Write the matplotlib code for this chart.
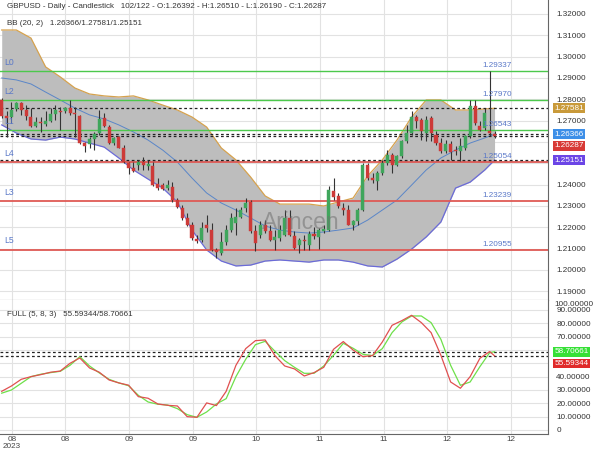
import numpy as np
import matplotlib
matplotlib.use("Agg")
import matplotlib.pyplot as plt

plt.rcParams['font.family'] = ['Liberation Sans', 'DejaVu Sans']

# daily candles (oldest first)
opens = [1.2797, 1.2722, 1.2719, 1.2755, 1.2782, 1.2750, 1.2719, 1.2677, 1.2696, 1.2685,
         1.2700, 1.2730, 1.2747, 1.2746, 1.2761, 1.2738, 1.2724, 1.2594, 1.2589, 1.2614,
         1.2641, 1.2711, 1.2672, 1.2594, 1.2625, 1.2571, 1.2500, 1.2477, 1.2493, 1.2508,
         1.2489, 1.2489, 1.2402, 1.2399, 1.2383, 1.2391, 1.2328, 1.2292, 1.2242, 1.2211,
         1.2145, 1.2141, 1.2211, 1.2188, 1.2094, 1.2078, 1.2133, 1.2188, 1.2219, 1.2250,
         1.2289, 1.2319, 1.2181, 1.2165, 1.2212, 1.2181, 1.2142, 1.2150, 1.2165, 1.2244,
         1.2158, 1.2119, 1.2142, 1.2119, 1.2169, 1.2153, 1.2181, 1.2189, 1.2372, 1.2345,
         1.2290, 1.2283, 1.2212, 1.2228, 1.2283, 1.2494, 1.2431, 1.2415, 1.2455, 1.2501,
         1.2541, 1.2494, 1.2533, 1.2603, 1.2642, 1.2716, 1.2705, 1.2642, 1.2712, 1.2634,
         1.2595, 1.2559, 1.2591, 1.2564, 1.2556, 1.2572, 1.2626, 1.2767, 1.2673, 1.2666,
         1.2650, 1.26392]
highs = [1.2805, 1.2743, 1.2789, 1.2789, 1.2789, 1.2774, 1.2758, 1.2719, 1.2719, 1.2743,
         1.2758, 1.2774, 1.2766, 1.2766, 1.2797, 1.2766, 1.2727, 1.2602, 1.2625, 1.2649,
         1.2750, 1.2735, 1.2680, 1.2625, 1.2627, 1.2586, 1.2508, 1.2508, 1.2516, 1.2532,
         1.2516, 1.2505, 1.2430, 1.2407, 1.2422, 1.2414, 1.2336, 1.2305, 1.2266, 1.2227,
         1.2164, 1.2227, 1.2258, 1.2219, 1.2102, 1.2180, 1.2211, 1.2266, 1.2289, 1.2297,
         1.2336, 1.2330, 1.2212, 1.2228, 1.2236, 1.2212, 1.2189, 1.2212, 1.2283, 1.2283,
         1.2181, 1.2150, 1.2165, 1.2181, 1.2200, 1.2197, 1.2212, 1.2392, 1.2431, 1.2361,
         1.2314, 1.2306, 1.2236, 1.2290, 1.2501, 1.2501, 1.2455, 1.2462, 1.2517, 1.2564,
         1.2548, 1.2541, 1.2611, 1.2681, 1.2744, 1.2728, 1.2712, 1.2720, 1.2720, 1.2650,
         1.2619, 1.2611, 1.2603, 1.2580, 1.2619, 1.2634, 1.2798, 1.2798, 1.2697, 1.2759,
         1.29337, 1.26510]
lows = [1.2711, 1.2625, 1.2688, 1.2743, 1.2727, 1.2704, 1.2672, 1.2668, 1.2649, 1.2677,
        1.2696, 1.2704, 1.2657, 1.2735, 1.2727, 1.2625, 1.2590, 1.2555, 1.2571, 1.2563,
        1.2633, 1.2672, 1.2589, 1.2586, 1.2571, 1.2500, 1.2449, 1.2461, 1.2469, 1.2469,
        1.2469, 1.2396, 1.2375, 1.2375, 1.2375, 1.2321, 1.2289, 1.2235, 1.2208, 1.2141,
        1.2125, 1.2133, 1.2180, 1.2089, 1.2055, 1.2070, 1.2117, 1.2180, 1.2164, 1.2242,
        1.2274, 1.2173, 1.2087, 1.2150, 1.2173, 1.2134, 1.2095, 1.2134, 1.2158, 1.2158,
        1.2100, 1.2079, 1.2095, 1.2095, 1.2147, 1.2100, 1.2173, 1.2185, 1.2330, 1.2290,
        1.2259, 1.2209, 1.2189, 1.2212, 1.2275, 1.2423, 1.2408, 1.2376, 1.2447, 1.2494,
        1.2455, 1.2486, 1.2525, 1.2595, 1.2634, 1.2666, 1.2611, 1.2603, 1.2603, 1.2587,
        1.2548, 1.2548, 1.2517, 1.2541, 1.2509, 1.2564, 1.2619, 1.2681, 1.2650, 1.2658,
        1.2628, 1.26190]
closes = [1.2724, 1.2714, 1.2750, 1.2782, 1.2750, 1.2724, 1.2677, 1.2696, 1.2691, 1.2700,
          1.2730, 1.2750, 1.2739, 1.2761, 1.2735, 1.2733, 1.2594, 1.2582, 1.2614, 1.2638,
          1.2708, 1.2677, 1.2594, 1.2621, 1.2574, 1.2508, 1.2477, 1.2466, 1.2505, 1.2493,
          1.2496, 1.2399, 1.2383, 1.2380, 1.2399, 1.2328, 1.2297, 1.2242, 1.2211, 1.2149,
          1.2136, 1.2199, 1.2196, 1.2094, 1.2083, 1.2133, 1.2188, 1.2242, 1.2247, 1.2282,
          1.2313, 1.2181, 1.2126, 1.2212, 1.2181, 1.2142, 1.2153, 1.2189, 1.2244, 1.2165,
          1.2103, 1.2139, 1.2134, 1.2169, 1.2158, 1.2189, 1.2194, 1.2376, 1.2340, 1.2298,
          1.2283, 1.2212, 1.2228, 1.2283, 1.2490, 1.2431, 1.2420, 1.2455, 1.2501, 1.2541,
          1.2494, 1.2533, 1.2603, 1.2642, 1.2716, 1.2697, 1.2650, 1.2705, 1.2642, 1.2595,
          1.2559, 1.2591, 1.2553, 1.2559, 1.2580, 1.2626, 1.2767, 1.2689, 1.2658, 1.2736,
          1.2640, 1.26287]

# Bollinger bands (20, 2), read every third candle
bb_idx = [0, 3, 6, 9, 12, 15, 18, 21, 24, 27, 30, 33, 36, 39, 42, 45, 48, 51, 54, 57,
          60, 63, 66, 69, 72, 75, 78, 81, 84, 87, 90, 93, 96, 99, 101]
bb_upper = [1.3125, 1.3125, 1.3087, 1.2952, 1.2905, 1.2853, 1.2825, 1.2816, 1.2811, 1.2816,
            1.2797, 1.2773, 1.2750, 1.2717, 1.2670, 1.2572, 1.2516, 1.2436, 1.2347, 1.2309,
            1.2309, 1.2309, 1.2300, 1.2319, 1.2337, 1.2441, 1.2516, 1.2609, 1.2717, 1.2797,
            1.2797, 1.2750, 1.2750, 1.2755, 1.27581]
bb_mid = [1.2900, 1.2891, 1.2872, 1.2834, 1.2797, 1.2759, 1.2727, 1.2708, 1.2680, 1.2647,
          1.2609, 1.2562, 1.2506, 1.2431, 1.2361, 1.2314, 1.2281, 1.2244, 1.2206, 1.2187,
          1.2178, 1.2173, 1.2178, 1.2187, 1.2197, 1.2234, 1.2281, 1.2328, 1.2398, 1.2469,
          1.2525, 1.2562, 1.2595, 1.2619, 1.26366]
bb_lower = [1.2680, 1.2642, 1.2614, 1.2609, 1.2623, 1.2614, 1.2595, 1.2576, 1.2525, 1.2469,
            1.2426, 1.2384, 1.2319, 1.2187, 1.2094, 1.2042, 1.2019, 1.2023, 1.2042, 1.2047,
            1.2042, 1.2037, 1.2047, 1.2047, 1.2037, 1.2019, 1.2014, 1.2051, 1.2098, 1.2155,
            1.2225, 1.2384, 1.2412, 1.2469, 1.25151]

# stochastic FULL (5, 8, 3), read every second candle
stoch_idx = list(range(0, 101, 2)) + [101]
stoch_k = [29, 33, 38, 40, 41.5, 43.3, 44.2, 50, 54, 46.5, 43.3, 37.5, 35.3, 33.6, 25, 23.8,
           19.5, 18.5, 18, 10, 9.5, 20.3, 18.3, 29, 48.5, 61, 67, 67.5, 55.7, 48, 45.8, 40.5,
           43, 47, 60.5, 66.3, 60, 55, 55.8, 66, 78.5, 82, 86, 80.5, 73, 56, 36, 31.3, 40,
           53.8, 58.8, 55.59344]
stoch_d = [27.6, 30, 35, 40, 41.8, 43, 44, 48.5, 55, 48, 42.8, 38, 35.3, 33.2, 26, 21,
           19.3, 18.7, 16, 11.5, 9.5, 13.5, 19.5, 23.5, 40, 53, 64, 66.5, 59, 52, 47, 42.5,
           42.5, 48, 56, 65, 61.3, 56.8, 55.8, 61, 73, 81, 85.5, 85.5, 80.5, 68, 48.5, 33.5,
           36, 47.5, 58, 58.70661]

level_names = ['L0', 'L2', 'L1', 'L4', 'L3', 'L5']
level_values = [1.29337, 1.27970, 1.26543, 1.25054, 1.23239, 1.20955]
level_colors = ['#4cc84c', '#4cc84c', '#4cc84c', '#df5a55', '#df5a55', '#df5a55']

tag_values = [1.27581, 1.26366, 1.26287, 1.25151]
tag_colors = ['#c99a3a', '#3d8fe8', '#d83a36', '#6b45e6']
tag_shift = [0, 0, -7, 0]
stoch_tag_values = [58.70661, 55.59344]
stoch_tag_colors = ['#36e036', '#e02a2a']
stoch_tag_shift = [0, -5.5]

# axis labels sitting behind the value tags are not shown in the original
price_ticks = [1.19, 1.20, 1.21, 1.22, 1.23, 1.24, 1.27, 1.28, 1.29, 1.30, 1.31, 1.32]
stoch_ticks = [0, 10, 20, 30, 40, 70, 80, 90]

x_tick_pos = [2.1, 13.0, 26.1, 39.2, 52.1, 65.2, 78.3, 91.3, 104.4]
x_tick_labels = ['08\n2023', '08', '09', '09', '10', '11', '11', '12', '12']

FS = 5.6
GRID = '#e2e2e2'
SPINE = '#666666'

fig = plt.figure(figsize=(6, 4.5), dpi=100)
ax = fig.add_axes([0, 0.3333, 0.9133, 0.6667])
ax2 = fig.add_axes([0, 0.0356, 0.9133, 0.2978], sharex=ax)

# --- price panel ---
ax.fill_between(bb_idx, bb_lower, bb_upper, color='#bdbdbd', lw=0, zorder=1)
ax.plot(bb_idx, bb_upper, color='#d6a24e', lw=0.9, zorder=1.5)
ax.plot(bb_idx, bb_lower, color='#6b6bd8', lw=0.9, zorder=1.5)
ax.plot(bb_idx, bb_mid, color='#5a86c8', lw=0.7, zorder=1.5)

for name, val, col in zip(level_names, level_values, level_colors):
    lw = 1.0 if col == '#4cc84c' else 1.3
    ax.axhline(val, color=col, lw=lw, zorder=2)
    ax.annotate(name, xy=(0.008, val), xycoords=('axes fraction', 'data'),
                xytext=(0, 3), textcoords='offset points', fontsize=6.2,
                color='#5a78c8', va='bottom', ha='left', zorder=4)
    ax.annotate(f'{val:.5f}', xy=(0.881, val), xycoords=('axes fraction', 'data'),
                xytext=(0, 1.5), textcoords='offset points', fontsize=FS + 0.3,
                color='#5a78c8', va='bottom', ha='left', zorder=4)

for val in tag_values:
    ax.axhline(val, color='#222222', lw=0.9, ls=(0, (2.2, 2)), zorder=2.2)

x = np.arange(len(opens))
o = np.array(opens)
c = np.array(closes)
up = c >= o
body_lo = np.minimum(o, c)
body_h = np.maximum(np.abs(c - o), 0.00012)
colors = np.where(up, '#3fa65c', '#cd3a38')
ax.vlines(x, lows, highs, color='#333333', lw=0.8, zorder=3)
ax.bar(x, body_h, bottom=body_lo, width=0.62, color=colors, edgecolor=colors,
       lw=0.3, zorder=3.2)

ax.text(0.549, 0.26, 'Arincen', transform=ax.transAxes, fontsize=16.5,
        color='#707070', alpha=0.55, ha='center', va='center', zorder=3.5)

ax.text(0.012, 0.978, 'GBPUSD - Daily - Candlestick   102/122 - O:1.26392 - H:1.26510'
        ' - L:1.26190 - C:1.26287', transform=ax.transAxes, fontsize=FS + 0.2,
        color='#333333', va='center', ha='left')
ax.text(0.012, 0.921, 'BB (20, 2)   1.26366/1.27581/1.25151', transform=ax.transAxes,
        fontsize=FS + 0.2, color='#333333', va='center', ha='left')

ax.set_ylim(1.18593, 1.32656)
ax.set_xlim(-0.35, 111.95)
ax.set_yticks(np.arange(1.19, 1.3201, 0.01), minor=True)
ax.set_yticks(price_ticks)
ax.set_yticklabels([f'{v:.5f}' for v in price_ticks])
ax.yaxis.tick_right()
ax.tick_params(axis='y', which='both', length=0, pad=6, labelsize=FS + 0.3,
               labelcolor='#333333')
ax.tick_params(axis='x', length=0, labelbottom=False)
ax.set_xticks(x_tick_pos)
ax.grid(True, which='both', color=GRID, lw=0.8)
ax.set_axisbelow(True)
for side in ['top', 'left']:
    ax.spines[side].set_visible(False)
ax.spines['right'].set_color(SPINE)
ax.spines['bottom'].set_color(SPINE)

for val, col, dy in zip(tag_values, tag_colors, tag_shift):
    ax.annotate(f'{val:.5f}', xy=(1, val), xycoords=('axes fraction', 'data'),
                xytext=(4.6, dy), textcoords='offset points', fontsize=FS + 0.3,
                color='white', va='center', ha='left', annotation_clip=False,
                bbox=dict(boxstyle='square,pad=0.18', fc=col, ec='none'), zorder=5)

# --- stochastic panel ---
ax2.plot(stoch_idx, stoch_d, color='#6ee04a', lw=0.9, zorder=3)
ax2.plot(stoch_idx, stoch_k, color='#e05050', lw=0.9, zorder=3.1)
for val in stoch_tag_values:
    ax2.axhline(val, color='#222222', lw=0.9, ls=(0, (2.2, 2)), zorder=2)

ax2.text(0.012, 0.895, 'FULL (5, 8, 3)   55.59344/58.70661', transform=ax2.transAxes,
         fontsize=FS + 0.2, color='#333333', va='center', ha='left')

ax2.set_ylim(-3, 97.5)
ax2.set_yticks(np.arange(0, 91, 10), minor=True)
ax2.set_yticks(stoch_ticks)
ax2.set_yticklabels(['0'] + [f'{v:.5f}' for v in stoch_ticks[1:]])
ax2.yaxis.tick_right()
ax2.tick_params(axis='y', which='both', length=0, pad=6, labelsize=FS + 0.3,
                labelcolor='#333333')
ax2.annotate('100.00000', xy=(1, 1), xycoords='axes fraction', xytext=(4.6, -0.5),
             textcoords='offset points', fontsize=FS + 0.3, color='#333333',
             va='top', ha='left', annotation_clip=False)
ax2.set_xticks(x_tick_pos)
ax2.set_xticklabels(x_tick_labels, linespacing=0.95)
ax2.tick_params(axis='x', length=0, pad=1.5, labelsize=FS + 0.3, labelcolor='#444444')
ax2.grid(True, which='both', color=GRID, lw=0.8)
ax2.set_axisbelow(True)
for side in ['top', 'left']:
    ax2.spines[side].set_visible(False)
ax2.spines['right'].set_color(SPINE)
ax2.spines['bottom'].set_color(SPINE)

for val, col, dy in zip(stoch_tag_values, stoch_tag_colors, stoch_tag_shift):
    ax2.annotate(f'{val:.5f}', xy=(1, val), xycoords=('axes fraction', 'data'),
                 xytext=(4.6, dy), textcoords='offset points', fontsize=FS + 0.3,
                 color='white', va='center', ha='left', annotation_clip=False,
                 bbox=dict(boxstyle='square,pad=0.18', fc=col, ec='none'), zorder=5)

fig.savefig('out.png', dpi=100)
